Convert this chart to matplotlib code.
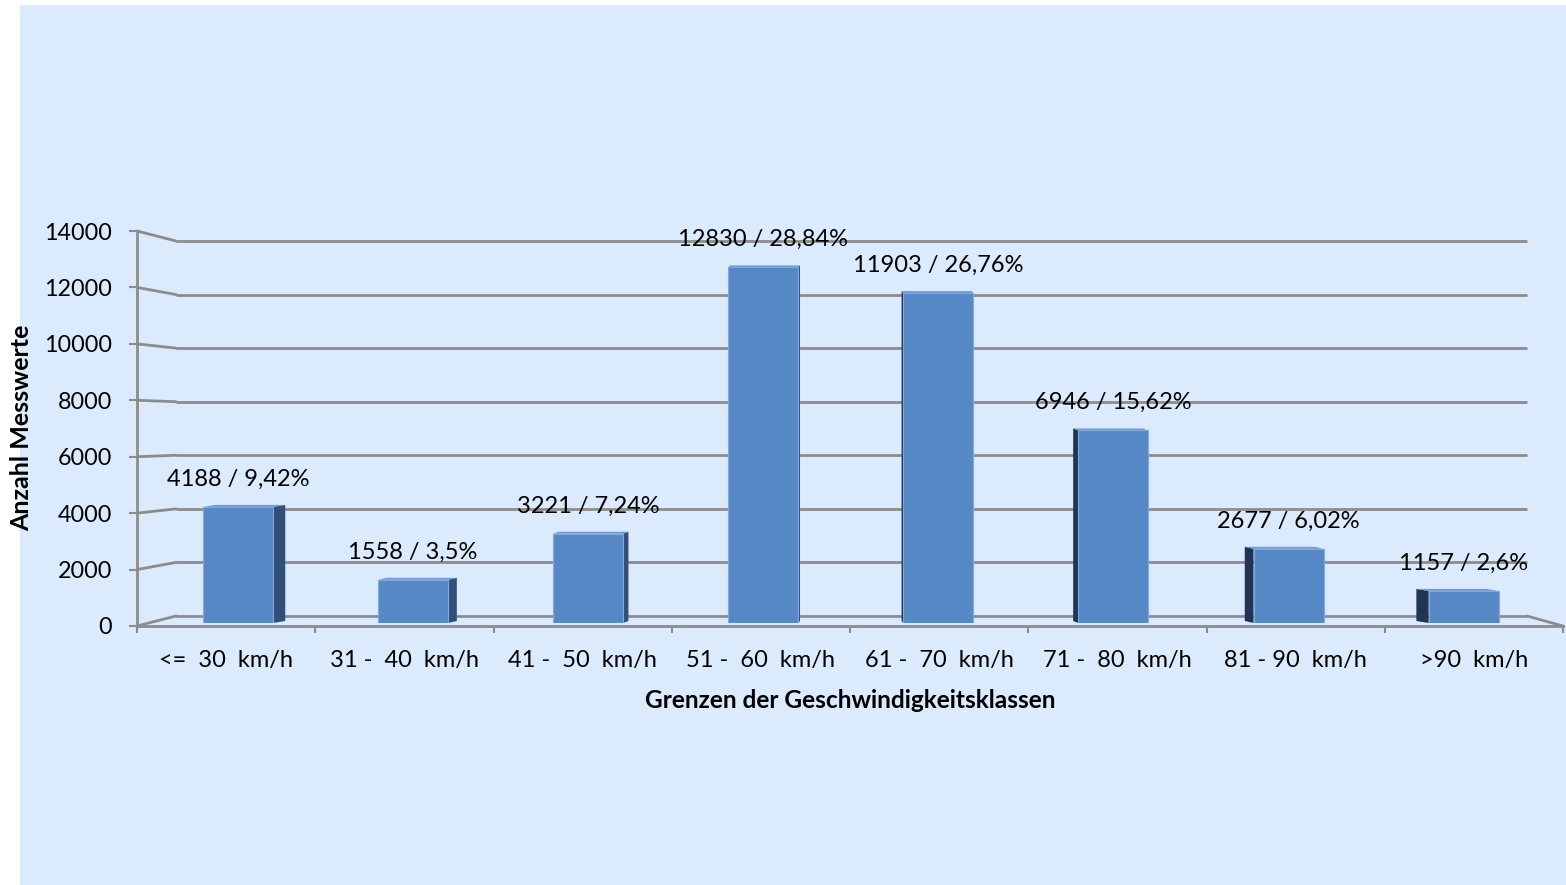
"""
Geschwindigkeitsklassen - Balkendiagramm im Excel-3D-Stil
"""
import matplotlib
matplotlib.use("Agg")
import matplotlib.pyplot as plt
from matplotlib.patches import Rectangle, Polygon, ConnectionPatch

plt.rcParams["font.family"] = ["Lato", "DejaVu Sans"]

# ===== Daten =====
categories = ["<=  30  km/h", "31 -  40  km/h", "41 -  50  km/h", "51 -  60  km/h",
              "61 -  70  km/h", "71 -  80  km/h", "81 - 90  km/h", ">90  km/h"]
counts = [4188, 1558, 3221, 12830, 11903, 6946, 2677, 1157]
percents = ["9,42", "3,5", "7,24", "28,84", "26,76", "15,62", "6,02", "2,6"]
y_ticks = [0, 2000, 4000, 6000, 8000, 10000, 12000, 14000]

W, H = 1566, 885
GRID = "#8c8c8c"
FRONT = "#5788c6"
SIDE_R = "#30507a"
SIDE_L = "#1f3553"
TOP = "#6d9bd4"


def box(left, top, right, bottom):
    """Pixel-Box -> Figurenkoordinaten"""
    return [left / W, 1 - bottom / H, (right - left) / W, (bottom - top) / H]


fig = plt.figure(figsize=(W / 100, H / 100), dpi=100, facecolor="white")

# Hintergrund
fig.patches.append(Rectangle((20 / W, 0), 1 - 20 / W, 1 - 5 / H,
                             transform=fig.transFigure, facecolor="#dbeafc",
                             edgecolor="none", zorder=-10))

# Rückwand
axb = fig.add_axes(box(176, 241, 1527, 616), zorder=0)
axb.set_xlim(-0.5, 7.5)
axb.set_ylim(0, max(y_ticks))
axb.axis("off")
axb.hlines(y_ticks, -0.5, 7.5, color=GRID, linewidth=2, clip_on=False)

# Balkenebene
axm = fig.add_axes(box(150.4, 235, 1551.2, 623), zorder=1)
axm.set_xlim(-0.5, 7.5)
axm.set_ylim(0, max(y_ticks))
axm.axis("off")

bar_w = 0.4
px_y = max(y_ticks) / 388.0
for i, v in enumerate(counts):
    xl, xr = i - bar_w / 2, i + bar_w / 2
    depth = (3.5 - i) * 0.02
    d = 2 * px_y
    if depth >= 0:
        side = [(xr, 0), (xr + depth, d), (xr + depth, v + d), (xr, v)]
        scol = SIDE_R
    else:
        side = [(xl, 0), (xl + depth, d), (xl + depth, v + d), (xl, v)]
        scol = SIDE_L
    axm.add_patch(Polygon(side, closed=True, facecolor=scol, edgecolor="none"))
    axm.add_patch(Polygon([(xl, v), (xr, v), (xr + depth, v + d), (xl + depth, v + d)],
                          closed=True, facecolor=TOP, edgecolor="none"))
    axm.bar(i, v, width=bar_w, color=FRONT, edgecolor="#80a9dd", linewidth=0.8)
    axm.annotate(f"{v} / {percents[i]}%", (i, v), xytext=(0, 20),
                 textcoords="offset points", ha="center", va="center",
                 fontsize=17, color="black", annotation_clip=False)

# Vorderachse
axf = fig.add_axes(box(137, 231, 1563, 626), zorder=2)
axf.set_facecolor("none")
axf.set_xlim(-0.5, 7.5)
axf.set_ylim(0, max(y_ticks))
for s in ["top", "right"]:
    axf.spines[s].set_visible(False)
for s in ["left", "bottom"]:
    axf.spines[s].set_color(GRID)
    axf.spines[s].set_linewidth(2)
axf.set_yticks(y_ticks)
axf.set_yticklabels([str(t) for t in y_ticks], fontsize=16.8)
axf.tick_params(axis="y", direction="out", length=6, width=1.5, color=GRID, pad=12)
axf.set_xticks(range(len(categories)))
axf.set_xticklabels(categories, fontsize=17)
axf.tick_params(axis="x", which="major", length=0, pad=17)
axf.set_xticks([i - 0.5 for i in range(len(categories) + 1)], minor=True)
axf.tick_params(axis="x", which="minor", direction="out", length=5, width=1.5, color=GRID)

# Verbindungslinien Vorder- zu Rückwand
for t in y_ticks:
    fig.add_artist(ConnectionPatch((-0.5, t), (-0.5, t), coordsA=axf.transData,
                                   coordsB=axb.transData, color=GRID, linewidth=2,
                                   zorder=0.5))
fig.add_artist(ConnectionPatch((7.5, 0), (7.5, 0), coordsA=axf.transData,
                               coordsB=axb.transData, color=GRID, linewidth=2, zorder=0.5))

# Achsentitel
fig.text(850 / W, 1 - 700 / H, "Grenzen der Geschwindigkeitsklassen",
         ha="center", va="center", fontsize=17.6, fontweight="bold")
fig.text(22 / W, 1 - 428 / H, "Anzahl Messwerte", rotation=90,
         ha="center", va="center", fontsize=18, fontweight="bold")

fig.savefig("out.png", dpi=100)
plt.close(fig)
